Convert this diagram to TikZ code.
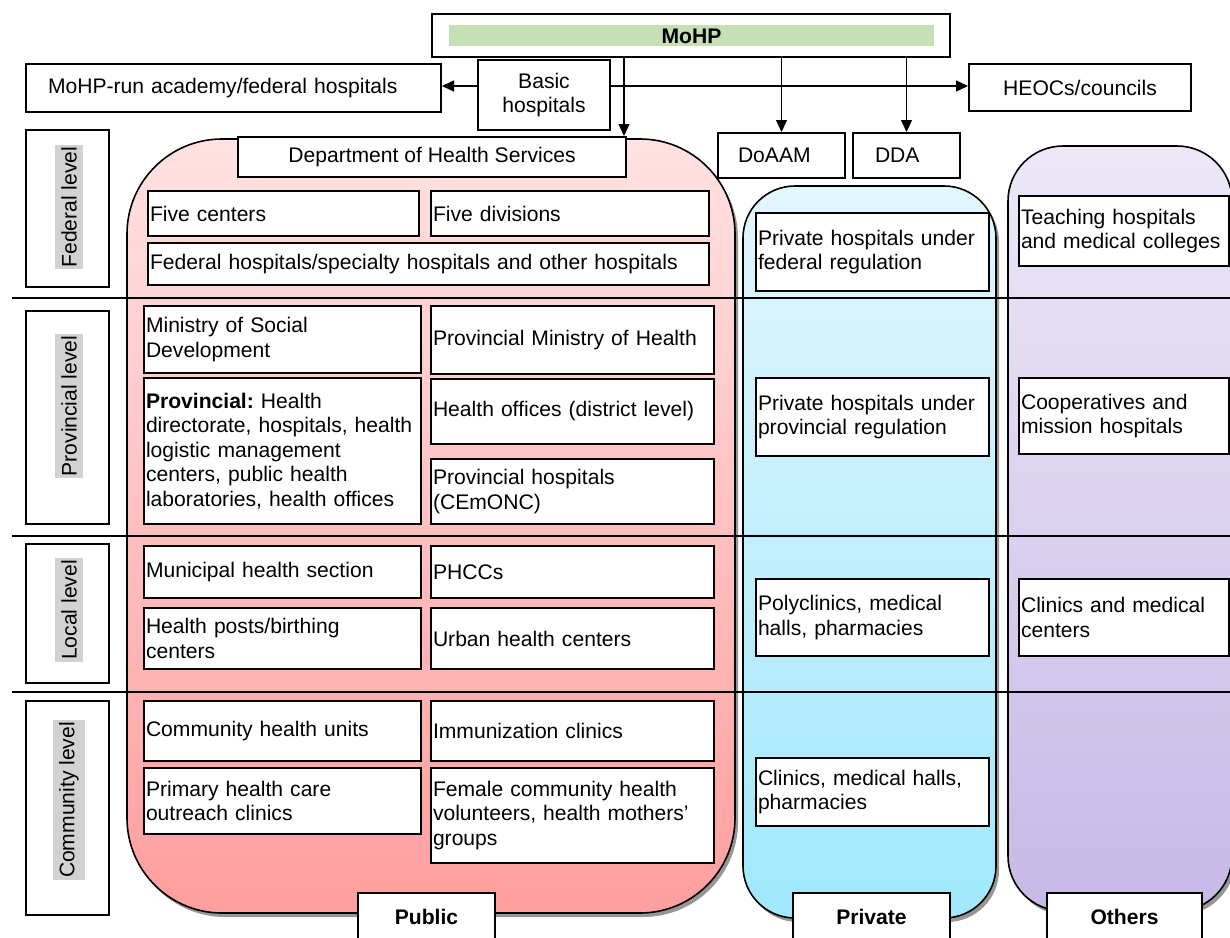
\documentclass[tikz,border=0pt]{standalone}
\usepackage{fontspec}
\setmainfont{Liberation Sans}
\usetikzlibrary{arrows.meta}
\frenchspacing
\definecolor{pinkT}{RGB}{255,226,226}
\definecolor{pinkB}{RGB}{255,158,158}
\definecolor{cyanT}{RGB}{226,246,253}
\definecolor{cyanB}{RGB}{160,232,252}
\definecolor{lavT}{RGB}{236,232,247}
\definecolor{lavB}{RGB}{200,184,230}
\definecolor{mohpgreen}{RGB}{197,224,180}
\definecolor{lvlgray}{RGB}{210,210,210}
\definecolor{shadowgray}{RGB}{150,150,150}
\newcommand\fs{\fontsize{21.1}{24.5}\selectfont}
\newcommand\mycell[6]{%
  \pgfmathsetmacro\cw{#4-#2-4}%
  \pgfmathsetmacro\ch{#5-#3}%
  \node[cell, text width=\cw pt, minimum height=\ch pt] (#1) at (#2,#3) {#6};}
\begin{document}
\begin{tikzpicture}[x=1pt,y=-1pt,
  every node/.style={font=\fs},
  box/.style={draw, line width=2pt, fill=white, inner sep=0pt, align=center},
  cell/.style={draw, line width=2pt, fill=white, anchor=north west, align=left, inner xsep=2pt, inner ysep=0pt},
  region/.style={draw, line width=1.6pt},
  arr/.style={line width=1.3pt, -{Triangle[length=12pt,width=11pt]}},
  divider/.style={line width=2pt},
  lvl/.style={draw, line width=2.4pt, inner sep=0pt, anchor=north west},
  lvltext/.style={fill=lvlgray, rotate=90, inner xsep=2pt, inner ysep=6pt},
]
\useasboundingbox (0,0) rectangle (1230,937);
\fill[white] (0,0) rectangle (1230,937);

% regions with shadows
\fill[shadowgray, rounded corners=95pt] (130,143) rectangle (738,917);
\draw[region, top color=pinkT, bottom color=pinkB, rounded corners=95pt] (127,139) rectangle (735,913);
\fill[shadowgray, rounded corners=52pt] (746,190) rectangle (999,922);
\draw[region, top color=cyanT, bottom color=cyanB, rounded corners=52pt] (743,186) rectangle (996,918);
\fill[shadowgray, rounded corners=55pt] (1011,150) rectangle (1235,915);
\draw[region, top color=lavT, bottom color=lavB, rounded corners=55pt] (1008,146) rectangle (1232,911);

% level dividers
\draw[divider] (12,298) -- (1230,298);
\draw[divider] (12,536) -- (1230,536);
\draw[divider] (12,692) -- (1230,692);

% level boxes
\node[lvl, minimum width=83pt, minimum height=157pt] (fedlvl) at (25,129) {};
\node[lvltext] (fedlbl) at (69,207) {Federal level};
\node[lvl, minimum width=83pt, minimum height=213pt] (provlvl) at (25,310) {};
\node[lvltext] (provlbl) at (69,406) {Provincial level};
\node[lvl, minimum width=83pt, minimum height=139pt] (loclvl) at (25,543) {};
\node[lvltext] (loclbl) at (69,610) {Local level};
\node[lvl, minimum width=83pt, minimum height=214pt] (comlvl) at (25,700) {};
\node[lvltext] (comlbl) at (69,800) {Community level};

% top
\node[box, minimum width=518pt, minimum height=43pt] (mohp) at (691,35.5) {};
\node[fill=mohpgreen, minimum width=485pt, minimum height=21pt, inner sep=0pt, text height=15pt, text depth=0pt, font=\fs\bfseries] (mohplbl) at (691.5,35.5) {MoHP};
\mycell{academy}{25}{63}{440}{111}{\hspace*{20pt}MoHP-run academy/federal hospitals}
\node[box, minimum width=132pt, minimum height=70pt] (basic) at (544,95) {Basic\\hospitals};
\node[box, minimum width=222pt, minimum height=47pt] (heocs) at (1080,87.5) {HEOCs/councils};
\node[box, minimum width=388pt, minimum height=40pt] (dhs) at (432,157) {Department of Health Services};
\mycell{doaam}{717}{132}{844}{177}{\hspace*{18pt}DoAAM}
\mycell{dda}{852}{132}{959}{177}{\hspace*{20pt}DDA}

% connectors
\coordinate (hy) at (0,86);
\coordinate (c1) at (624,0);
\draw[arr] (basic.west |- hy) -- (academy.east |- hy);
\draw[arr] (basic.east |- hy) -- (heocs.west |- hy);
\draw[arr] (mohp.south -| c1) -- (dhs.north -| c1);
\draw[arr] (mohp.south -| doaam.north) -- (doaam.north);
\draw[arr] (mohp.south -| dda.north) -- (dda.north);

% public
\mycell{fivecen}{147}{190}{418}{235}{Five centers}
\mycell{fivediv}{430}{190}{708}{235}{Five divisions}
\mycell{fedhosp}{147}{242}{708}{284}{Federal hospitals/specialty hospitals and other hospitals}
\mycell{mosd}{143}{305}{420}{372}{Ministry of Social\\Development}
\mycell{pmoh}{430}{305}{713}{373}{Provincial Ministry of Health}
\mycell{prov}{143}{377}{420}{523}{\textbf{Provincial:} Health\\directorate, hospitals, health\\logistic management\\centers, public health\\laboratories, health offices}
\mycell{hoff}{430}{378}{713}{443}{Health offices (district level)}
\mycell{phosp}{430}{458}{713}{523}{Provincial hospitals\\(CEmONC)}
\mycell{muni}{143}{545}{420}{597}{Municipal health section}
\mycell{phcc}{430}{545}{713}{597}{PHCCs}
\mycell{hposts}{143}{607}{420}{668}{Health posts/birthing\\centers}
\mycell{uhc}{430}{607}{713}{668}{Urban health centers}
\mycell{chu}{143}{700}{420}{760}{Community health units}
\mycell{imm}{430}{700}{713}{760}{Immunization clinics}
\mycell{phc}{143}{767}{420}{833}{Primary health care\\outreach clinics}
\mycell{fchv}{430}{767}{713}{862}{Female community health\\volunteers, health mothers’\\groups}

% private
\mycell{pfed}{755}{212}{988}{290}{Private hospitals under\\federal regulation}
\mycell{pprov}{755}{377}{988}{455}{Private hospitals under\\provincial regulation}
\mycell{poly}{755}{578}{988}{655}{Polyclinics, medical\\halls, pharmacies}
\mycell{pclin}{755}{757}{988}{825}{Clinics, medical halls,\\pharmacies}

% others
\mycell{teach}{1018}{195}{1228}{265}{Teaching hospitals\\and medical colleges}
\mycell{coop}{1018}{377}{1228}{453}{Cooperatives and\\mission hospitals}
\mycell{cmc}{1018}{578}{1228}{655}{Clinics and medical\\centers}

% sector labels
\node[box, minimum width=137pt, minimum height=48pt, font=\fs\bfseries] (public) at (426.5,917) {Public};
\node[box, minimum width=157pt, minimum height=48pt, font=\fs\bfseries] (private) at (871.5,917) {Private};
\node[box, minimum width=155pt, minimum height=48pt, font=\fs\bfseries] (others) at (1124.5,917) {Others};
\end{tikzpicture}
\end{document}
